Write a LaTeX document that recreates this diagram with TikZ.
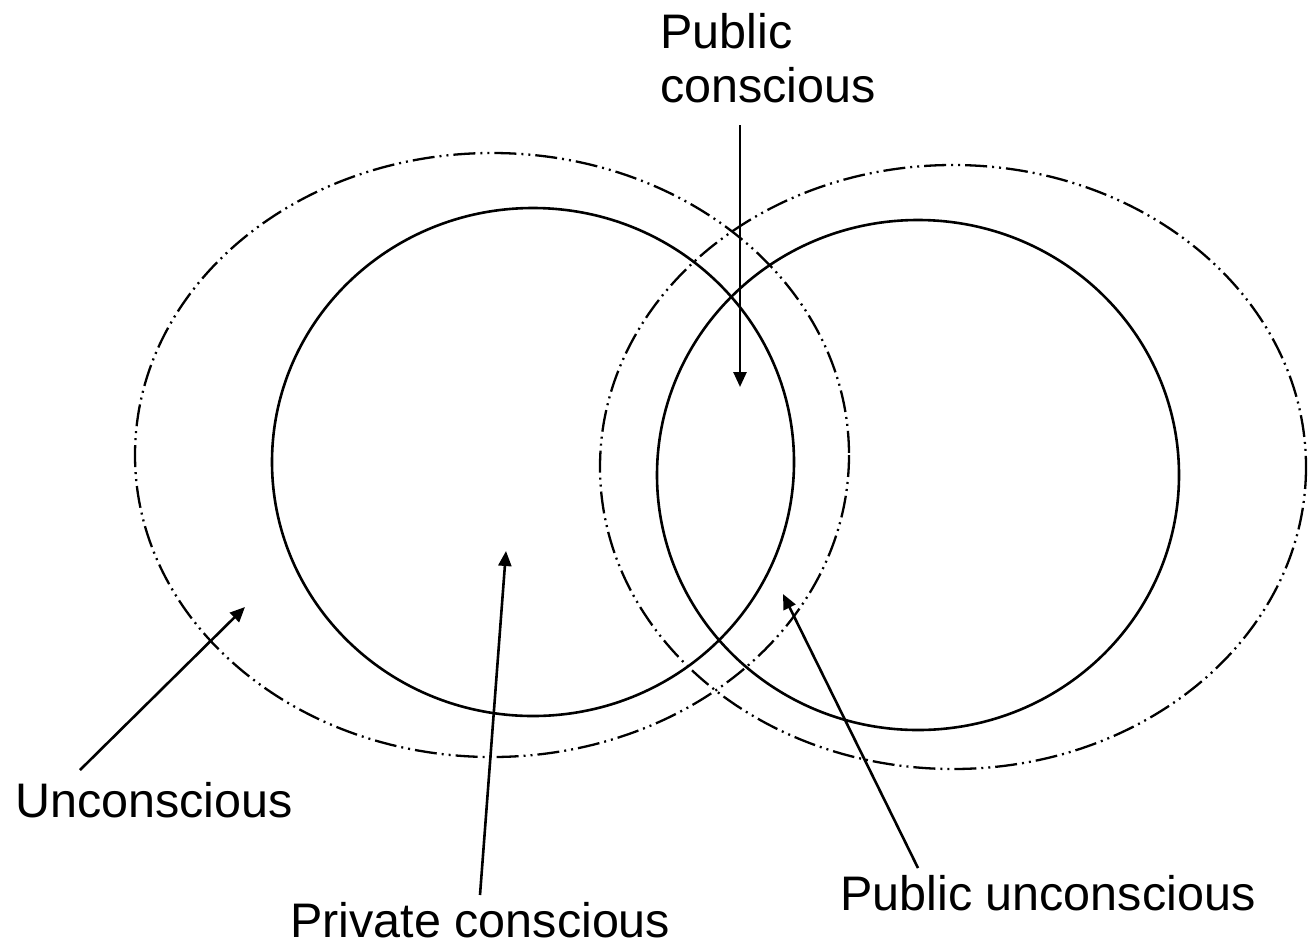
\documentclass[tikz,border=0pt]{standalone}
\usepackage{fontspec}
\setmainfont{Liberation Sans}
\usetikzlibrary{arrows.meta}
\begin{document}
\begin{tikzpicture}[x=1pt,y=-1pt,
  outerring/.style={line width=2.3pt, dash pattern=on 22pt off 5pt on 2pt off 5pt on 2pt off 5pt},
  innerring/.style={line width=2.6pt},
  lbl/.style={font=\fontsize{48.5}{54}\selectfont, anchor=base west, inner sep=0pt, align=left},
  pointer/.style={line width=2.6pt, -{Triangle[length=15pt,width=13pt]}}]
\useasboundingbox (0,0) rectangle (1308,946);
\draw[outerring] (492,455) ellipse [x radius=357, y radius=302];
\draw[innerring] (533,462) ellipse [x radius=261, y radius=254];
\draw[outerring] (953,467) ellipse [x radius=353, y radius=302];
\draw[innerring] (918,475) ellipse [x radius=261, y radius=255];

\node[lbl] (pc) at (660,102) {Public\\conscious};
\node[lbl] (un) at (15,817) {Unconscious};
\node[lbl] (pv) at (290,937) {Private conscious};
\node[lbl] (pu) at (840,910) {Public unconscious};

\coordinate (pcs) at (740,125);
\coordinate (pce) at (740,387);
\coordinate (uns) at (80,770);
\coordinate (une) at (245,607);
\coordinate (pvs) at (480,895);
\coordinate (pve) at (506,551);
\coordinate (pus) at (918,868);
\coordinate (pue) at (783,594);

\draw[pointer] (pcs) -- (pce);
\draw[pointer] (uns) -- (une);
\draw[pointer] (pvs) -- (pve);
\draw[pointer] (pus) -- (pue);
\end{tikzpicture}
\end{document}
